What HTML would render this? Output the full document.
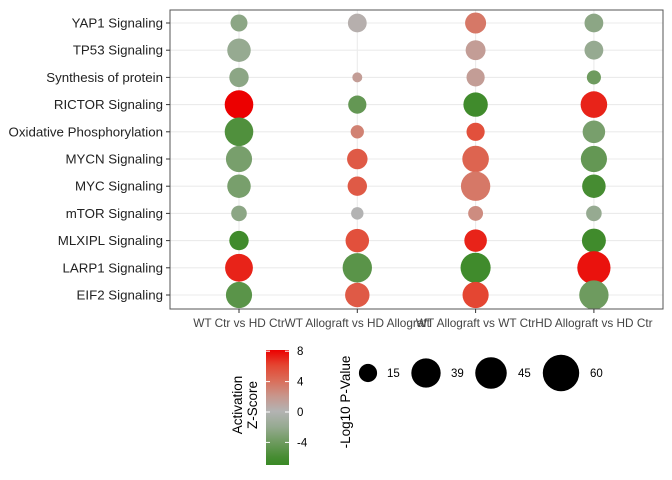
<!DOCTYPE html>
<html><head><meta charset="utf-8"><style>
html,body{margin:0;padding:0;background:#fff;}
svg{display:block;font-family:"Liberation Sans",Arial,sans-serif;}
</style></head><body>
<svg id="chart" width="672" height="480">
<defs><linearGradient id="zgrad" x1="0" y1="1" x2="0" y2="0">
<stop offset="0" stop-color="rgb(58,138,38)"/>
<stop offset="0.067" stop-color="rgb(70,140,50)"/>
<stop offset="0.2" stop-color="rgb(110,155,95)"/>
<stop offset="0.333" stop-color="rgb(150,170,145)"/>
<stop offset="0.467" stop-color="rgb(179,179,179)"/>
<stop offset="0.6" stop-color="rgb(200,150,140)"/>
<stop offset="0.733" stop-color="rgb(218,110,90)"/>
<stop offset="0.867" stop-color="rgb(228,70,50)"/>
<stop offset="1" stop-color="rgb(236,0,0)"/>
</linearGradient></defs>
<rect x="170" y="10" width="493" height="299" fill="#fff"/>
<g id="grid"></g>
<g id="dots"></g>
<rect x="170" y="10" width="493" height="299" fill="none" stroke="#555" stroke-width="1"/>
<g id="yaxis"></g>
<g id="xaxis"></g>
<g>
<text transform="translate(242,405) rotate(-90)" text-anchor="middle" font-size="13.5" fill="#000"><tspan x="0" dy="0">Activation</tspan><tspan x="0" dy="15">Z-Score</tspan></text>
<rect x="266" y="350" width="23" height="115" fill="url(#zgrad)"/>
<g id="cbticks"></g>
</g>
<g>
<text transform="translate(350,402) rotate(-90)" text-anchor="middle" font-size="13.5" fill="#000">-Log10 P-Value</text>
<g id="sizeleg"></g>
</g>
</svg>
<script>
const rows=["YAP1 Signaling","TP53 Signaling","Synthesis of protein","RICTOR Signaling","Oxidative Phosphorylation","MYCN Signaling","MYC Signaling","mTOR Signaling","MLXIPL Signaling","LARP1 Signaling","EIF2 Signaling"];
const cols=["WT Ctr vs HD Ctr","WT Allograft vs HD Allograft","WT Allograft vs WT Ctr","HD Allograft vs HD Ctr"];
const pvals=[
[13,16,20,16],
[25,null,18,16],
[17,4.5,15,9],
[37,15,27,32],
[37,8,15,23],
[31,19,32,31],
[25,17,39,25],
[11,7,10,11],
[17,25,23,26],
[35,39,41,50],
[31,27,31,39]];
const zscores=[
[-2.5,0.3,3.5,-2.5],
[-2,null,1.5,-2],
[-2.5,1.5,1.5,-4],
[8,-4.5,-6.5,7],
[-5.5,3,5.5,-3.5],
[-3.5,5,4.5,-4.5],
[-3.5,5,3.5,-6],
[-2.5,0,2.5,-2],
[-6.5,5.5,7,-6.5],
[7,-5,-6.5,7.5],
[-5,5,6,-4]];
const sizeBreaks=[15,39,45,60];
const zTicks=[8,4,0,-4];

const NS="http://www.w3.org/2000/svg";
function mk(t,a,p){const e=document.createElementNS(NS,t);for(const k in a)e.setAttribute(k,a[k]);p.appendChild(e);return e;}
const xPos=i=>239+i*118.3;
const yPos=i=>23+i*27.2;
const rScale=v=>2.35*Math.sqrt(v);
const zY=z=>412-z*7.6;
const cStops=[[-7,[58,138,38]],[-6,[70,140,50]],[-4,[110,155,95]],[-2,[150,170,145]],[0,[179,179,179]],[2,[200,150,140]],[4,[218,110,90]],[6,[228,70,50]],[8,[236,0,0]]];
function zColor(z){z=Math.max(-7,Math.min(8,z));
 for(let k=0;k<cStops.length-1;k++){const [a,ca]=cStops[k],[b,cb]=cStops[k+1];
  if(z>=a&&z<=b){const t=(z-a)/(b-a);return `rgb(${ca.map((v,i)=>Math.round(v+(cb[i]-v)*t)).join(',')})`;}}
 return 'rgb(179,179,179)';}

const grid=document.getElementById('grid');
rows.forEach((r,i)=>{const l=mk('line',{x1:170,x2:663,y1:yPos(i),y2:yPos(i),stroke:'#ebebeb','stroke-width':1.1},grid);

});
cols.forEach((c,j)=>{const l=mk('line',{x1:xPos(j),x2:xPos(j),y1:10,y2:309,stroke:'#ebebeb','stroke-width':1.1},grid);

});

const dots=document.getElementById('dots');
rows.forEach((r,i)=>cols.forEach((c,j)=>{const v=pvals[i][j];if(v==null)return;
const d=mk('circle',{cx:xPos(j),cy:yPos(i),r:rScale(v),fill:zColor(zscores[i][j])},dots);

}));

const ya=document.getElementById('yaxis');
rows.forEach((r,i)=>{mk('line',{x1:166,x2:170,y1:yPos(i),y2:yPos(i),stroke:'#333'},ya);
const t=mk('text',{x:163,y:yPos(i)+4.5,'text-anchor':'end','font-size':13.3,fill:'#222'},ya);t.textContent=r;

});
const xa=document.getElementById('xaxis');
cols.forEach((c,j)=>{mk('line',{x1:xPos(j),x2:xPos(j),y1:309,y2:313,stroke:'#333'},xa);
const t=mk('text',{x:xPos(j),y:327,'text-anchor':'middle','font-size':11.8,fill:'#444'},xa);t.textContent=c;

});

const cb=document.getElementById('cbticks');
zTicks.forEach(z=>{mk('line',{x1:266,x2:270,y1:zY(z),y2:zY(z),stroke:'#fff'},cb);mk('line',{x1:285,x2:289,y1:zY(z),y2:zY(z),stroke:'#fff'},cb);
const t=mk('text',{x:297,y:zY(z)+4,'font-size':11.5,fill:'#000'},cb);t.textContent=z;

});

const sl=document.getElementById('sizeleg');
const sx=[368,426,491,561],lx=[387,451,518,590];
sizeBreaks.forEach((v,k)=>{const c=mk('circle',{cx:sx[k],cy:373,r:rScale(v),fill:'#000'},sl);


const t=mk('text',{x:lx[k],y:377,'font-size':11.5,fill:'#000'},sl);t.textContent=v;

});
</script>
</body></html>
